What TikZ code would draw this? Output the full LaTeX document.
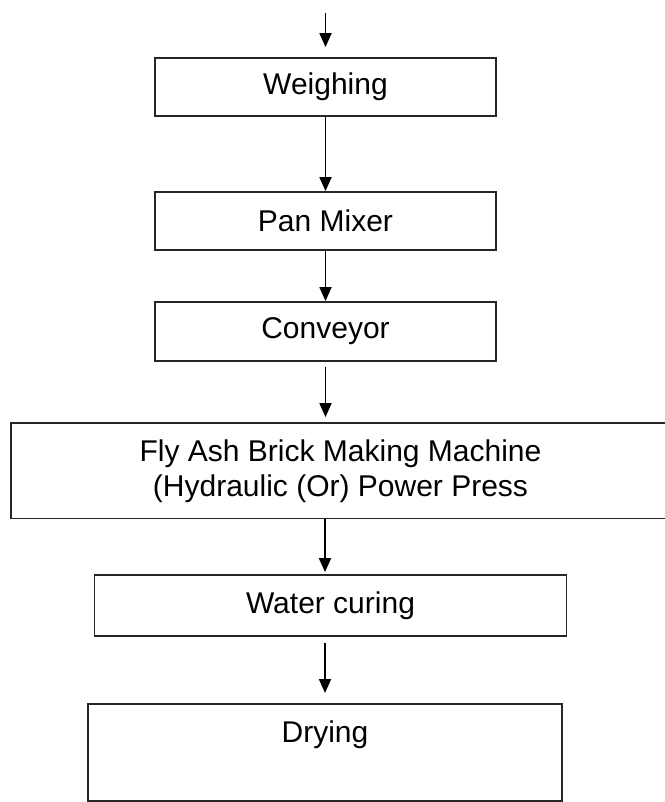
\documentclass[tikz,border=0pt]{standalone}
\usepackage{fontspec}
\setmainfont{Liberation Sans}
\usetikzlibrary{arrows.meta}
\begin{document}
\begin{tikzpicture}[x=1pt,y=-1pt,
  box/.style={draw=black!85, line width=1.8pt, inner sep=0pt, align=center, font=\fontsize{30}{35}\selectfont},
  arr/.style={line width=1.8pt, -{Triangle[length=14pt,width=12pt]}}]
\useasboundingbox[fill=white] (0,0) rectangle (664,802);
\node[box, minimum width=341, minimum height=58] (w) at (325.5,87) {Weighing};
\node[box, minimum width=341, minimum height=58] (p) at (325.5,221) {Pan Mixer};
\node[box, minimum width=341, minimum height=59] (c) at (325.5,331.5) {Conveyor};
\node[box, minimum width=659, minimum height=95.5] (f) at (340.5,470.75) {Fly Ash Brick Making Machine\\(Hydraulic (Or) Power Press};
\node[box, minimum width=472, minimum height=61] (wc) at (330.5,605.5) {Water curing};
\node[box, minimum width=474, text height=39pt, text depth=58pt, anchor=north] (d) at (325,703) {Drying};
\coordinate (s) at (325.5,13);
\draw[arr, shorten >=10pt] (s) -- (w.north);
\draw[arr] (w.south) -- (p.north);
\draw[arr] (p.south) -- (c.north);
\draw[arr, shorten <=5pt, shorten >=5pt] (c.south) -- (c.south |- f.north);
\draw[arr, shorten >=2pt] (d.north |- f.south) -- (d.north |- wc.north);
\draw[arr, shorten <=6pt, shorten >=10pt] (d.north |- wc.south) -- (d.north);
\end{tikzpicture}
\end{document}
